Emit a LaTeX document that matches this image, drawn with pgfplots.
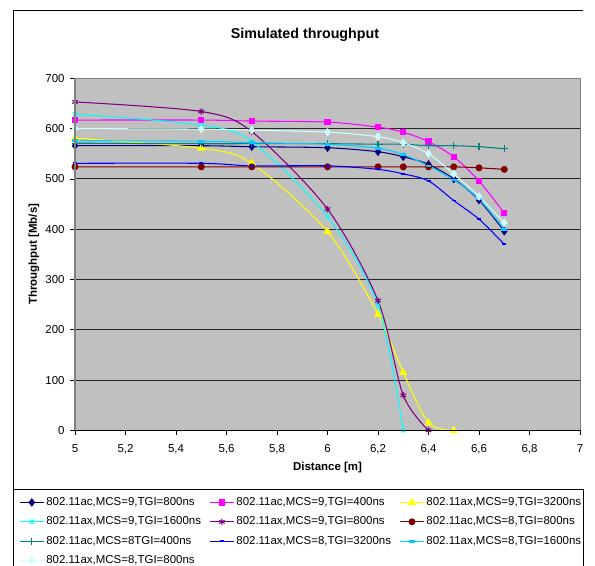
\documentclass[border=0pt]{standalone}
\usepackage{pgfplots}
\pgfplotsset{compat=1.18}
\usepackage{fontspec}
\setmainfont{Liberation Sans}
\newcommand\lbl{\fontsize{8.6pt}{10pt}\selectfont}
\newcommand\LE[1]{\makebox[120pt][l]{#1}}
\newcommand\LF[1]{\makebox[113pt][l]{#1}}
\definecolor{cNavy}{HTML}{000080}
\definecolor{cMag}{HTML}{FF00FF}
\definecolor{cYel}{HTML}{FFFF00}
\definecolor{cCyan}{HTML}{00FFFF}
\definecolor{cPurp}{HTML}{800080}
\definecolor{cDRed}{HTML}{800000}
\definecolor{cTeal}{HTML}{008080}
\definecolor{cBlue}{HTML}{0000FF}
\definecolor{cSky}{HTML}{00CCFF}
\definecolor{cLCyan}{HTML}{CCFFFF}
\definecolor{bgGray}{HTML}{C0C0C0}
\definecolor{frameGray}{HTML}{808080}
\begin{document}
\begin{tikzpicture}
\path[use as bounding box] (0pt,0pt) rectangle (446.25pt,-423.75pt);
\fill[white] (0pt,0pt) rectangle (446.25pt,-423.75pt);
\begin{axis}[
  name=ax,
  scale only axis, width=378.75pt, height=264.08pt,
  at={(56.25pt,-322.8pt)}, anchor=south west,
  xmin=5, xmax=7, ymin=0, ymax=700,
  xtick={5,5.2,5.4,5.6,5.8,6,6.2,6.4,6.6,6.8,7},
  ytick={0,100,200,300,400,500,600,700},
  /pgf/number format/use comma,
  /pgf/number format/fixed,
  /pgf/number format/precision=1,
  /pgf/number format/assume math mode=true,
  tick label style={font=\lbl},
  xticklabel style={inner sep=0pt, anchor=north, yshift=-6.6pt},
  yticklabel style={inner sep=0pt, anchor=east, xshift=-3.9pt},
  tick align=outside, tick pos=left,
  major tick length=3.75pt,
  tick style={black, line width=0.6pt},
  axis line style={draw=none},
  axis background/.style={fill=bgGray},
  ymajorgrids,
  major grid style={draw=black!85, line width=0.75pt},
  xlabel={Distance [m]},
  ylabel={Throughput [Mb/s]},
  xlabel style={font=\lbl\bfseries, at={(axis description cs:0.5,-0.106)}, anchor=center, inner sep=0pt},
  ylabel style={font=\lbl\bfseries, at={(axis description cs:-0.0812,0.5)}, anchor=center, inner sep=0pt, rotate=0},
  legend columns=3,
  legend cell align=left,
  legend style={at={(axis description cs:-0.12277,-0.16643)}, anchor=north west,
    draw=black, fill=white, inner xsep=4.5pt, inner ysep=5.6pt, font=\lbl,
    row sep=6.05pt, column sep=1.5pt,
    /tikz/every even column/.append style={column sep=2.25pt},
    nodes={inner sep=0pt, text height=6.5pt, text depth=2pt}},
  legend image code/.code={\draw[mark repeat=2,mark phase=2,#1] plot coordinates {(0pt,0pt) (9pt,0pt) (18pt,0pt)};},
  every axis plot/.append style={line width=0.8pt, smooth},
]
\addplot[cNavy, mark=diamond*, mark size=2.6pt, mark options={solid, fill=cNavy}] coordinates {
(5,566) (5.5,566) (5.7,564) (6,562) (6.2,554) (6.3,544) (6.4,529) (6.5,500) (6.6,458) (6.7,396)};
\addlegendentry{\LE{802.11ac,MCS=9,TGI=800ns}}
\addplot[cMag, mark=square*, mark size=2pt, mark options={solid, fill=cMag}] coordinates {
(5,617) (5.5,617) (5.7,615) (6,613) (6.2,603) (6.3,593) (6.4,574) (6.5,544) (6.6,496) (6.7,432)};
\addlegendentry{\LE{802.11ac,MCS=9,TGI=400ns}}
\addplot[cYel, mark=triangle*, mark size=2.8pt, mark options={solid, fill=cYel}] coordinates {
(5,581) (5.5,561) (5.7,531) (6,395) (6.2,231) (6.3,115) (6.4,15) (6.5,0)};
\addlegendentry{\LF{802.11ax,MCS=9,TGI=3200ns}}
\addplot[cCyan, mark=x, mark size=2.2pt, mark options={solid}] coordinates {
(5,629) (5.5,607) (5.7,574) (6,425) (6.2,249) (6.3,0)};
\addlegendentry{\LE{802.11ax,MCS=9,TGI=1600ns}}
\addplot[cPurp, mark=asterisk, mark size=2.4pt, mark options={solid}] coordinates {
(5,653) (5.5,634) (5.7,594) (6,440) (6.2,258) (6.3,70) (6.4,0)};
\addlegendentry{\LE{802.11ax,MCS=9,TGI=800ns}}
\addplot[cDRed, mark=*, mark size=2.2pt, mark options={solid, fill=cDRed}] coordinates {
(5,524) (5.5,524) (5.7,524) (6,524) (6.2,524) (6.3,524) (6.4,524) (6.5,524) (6.6,522) (6.7,519)};
\addlegendentry{\LF{802.11ac,MCS=8,TGI=800ns}}
\addplot[cTeal, mark=+, mark size=2.6pt, mark options={solid}] coordinates {
(5,571) (5.5,570) (5.7,570) (6,570) (6.2,569) (6.3,569) (6.4,566) (6.5,566) (6.6,564) (6.7,560)};
\addlegendentry{\LE{802.11ac,MCS=8TGI=400ns}}
\addplot[cBlue, mark=-, mark size=1.5pt, mark options={solid, line width=1.3pt}] coordinates {
(5,531) (5.5,531) (5.7,526) (6,526) (6.2,519) (6.3,510) (6.4,496) (6.5,457) (6.6,420) (6.7,370)};
\addlegendentry{\LE{802.11ax,MCS=8,TGI=3200ns}}
\addplot[cSky, mark=-, mark size=2.2pt, mark options={solid, line width=2pt}] coordinates {
(5,576) (5.5,575) (5.7,572) (6,569) (6.2,561) (6.3,548) (6.4,526) (6.5,498) (6.6,460) (6.7,400)};
\addlegendentry{\LF{802.11ax,MCS=8,TGI=1600ns}}
\addplot[cLCyan, mark=diamond*, mark size=2.6pt, mark options={solid, fill=cLCyan}] coordinates {
(5,600) (5.5,599) (5.7,597) (6,593) (6.2,584) (6.3,572) (6.4,550) (6.5,510) (6.6,465) (6.7,413)};
\addlegendentry{\LE{802.11ax,MCS=8,TGI=800ns}}
\end{axis}
\draw[frameGray, line width=0.75pt] (ax.north west) -- (ax.north east) -- (ax.south east);
\draw[black, line width=0.75pt] (ax.south west) -- (ax.south east);
\draw[frameGray, line width=1.5pt] (ax.south west) -- (ax.north west);
\draw[black, line width=0.75pt] (437.25pt,-7.5pt) -- (9.75pt,-7.5pt) -- (9.75pt,-430pt);
\node at (228.75pt,-26.25pt) {\fontsize{10.7pt}{12pt}\selectfont\bfseries Simulated throughput};
\end{tikzpicture}
\end{document}
